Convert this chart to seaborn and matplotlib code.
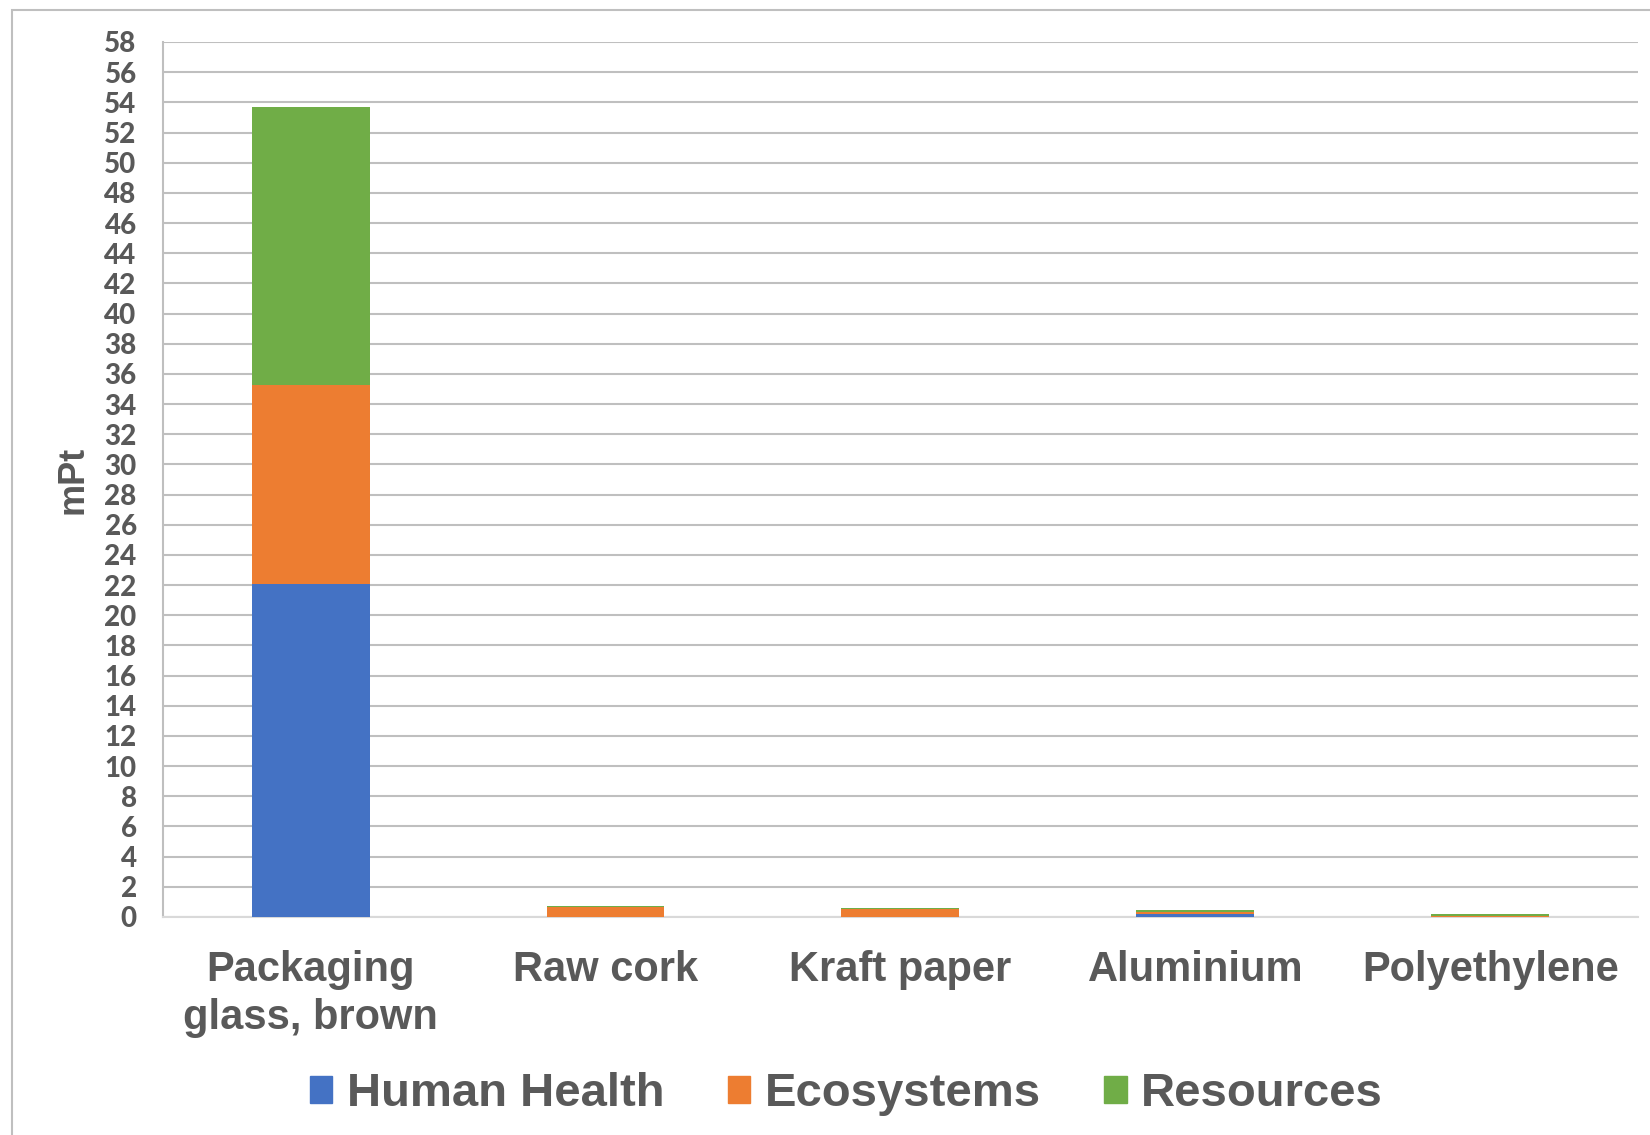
import matplotlib
matplotlib.use("Agg")
import matplotlib.pyplot as plt
import matplotlib.patches as mpatches
import numpy as np
import pandas as pd
import seaborn as sns

categories = ["Packaging\nglass, brown", "Raw cork", "Kraft paper", "Aluminium", "Polyethylene"]
human_health = [22.07, 0.00, 0.03, 0.18, 0.02]
ecosystems = [13.20, 0.68, 0.50, 0.13, 0.03]
resources = [18.45, 0.02, 0.05, 0.15, 0.15]
series_names = ["Human Health", "Ecosystems", "Resources"]
colors = ["#4472C4", "#ED7D31", "#70AD47"]
y_ticks = list(range(0, 60, 2))

TEXT = "#595959"
GRID = "#BFBFBF"

sns.set_theme(style="white")
plt.rcParams["font.family"] = ["Liberation Sans", "DejaVu Sans"]

fig = plt.figure(figsize=(16.5, 11.35), dpi=100)
ax = fig.add_axes([0.0988, 0.1921, 0.8939, 0.7709])

# outer chart frame
fig.patches.append(mpatches.Rectangle((12 / 1650, -0.05), 1.1, 1 - 10 / 1135 + 0.05,
                                      transform=fig.transFigure, fill=False,
                                      edgecolor="#BFBFBF", linewidth=1.5, zorder=0))

df = pd.DataFrame({"category": categories, "hh": human_health,
                   "eco": ecosystems, "res": resources})
df["c1"] = df["hh"]
df["c2"] = df["hh"] + df["eco"]
df["c3"] = df["hh"] + df["eco"] + df["res"]

# stacked bars drawn as cumulative layers, top layer first
for col, color in zip(["c3", "c2", "c1"], colors[::-1]):
    sns.barplot(data=df, x="category", y=col, color=color, width=0.4,
                saturation=1, ax=ax, zorder=3, edgecolor="none")

ax.set_ylim(0, 58)
ax.set_xlim(-0.5, 4.5)
ax.set_yticks(y_ticks)
ax.yaxis.grid(True, color=GRID, linewidth=1.5, zorder=0)
ax.set_axisbelow(True)
for s in ["top", "right"]:
    ax.spines[s].set_visible(False)
ax.spines["left"].set_color(GRID)
ax.spines["left"].set_linewidth(1.5)
ax.spines["bottom"].set_color("#D9D9D9")
ax.spines["bottom"].set_linewidth(1.5)

ax.tick_params(axis="y", length=0, pad=19, labelsize=20, labelcolor=TEXT)
for lab in ax.get_yticklabels():
    lab.set_fontweight("black")
    lab.set_fontfamily(["Lato", "DejaVu Sans"])
ax.tick_params(axis="x", length=0, pad=24, labelsize=30, labelcolor=TEXT)
for lab in ax.get_xticklabels():
    lab.set_fontweight("bold")
    lab.set_linespacing(1.25)

ax.set_xlabel("")
ax.set_ylabel("mPt", fontsize=26, fontweight="bold", color=TEXT, labelpad=10)

handles = [mpatches.Patch(color=c, label=n) for c, n in zip(colors, series_names)]
fig.legend(handles=handles, loc="center", bbox_to_anchor=(0.513, 0.036), ncol=3,
           frameon=False, prop={"size": 34, "weight": "bold"}, labelcolor=TEXT,
           handlelength=0.48, handleheight=0.48, handletextpad=0.3, columnspacing=1.35)

fig.savefig("out.png", dpi=100, facecolor="white")
